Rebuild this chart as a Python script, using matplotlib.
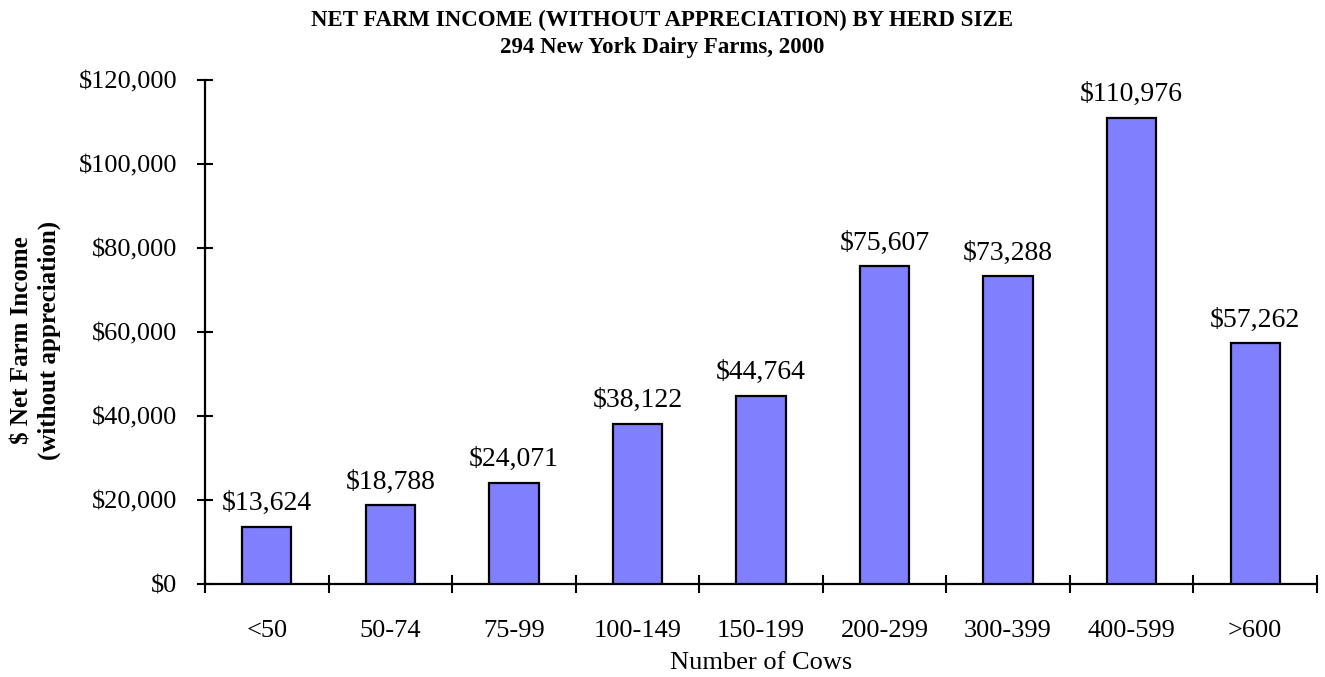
import matplotlib
matplotlib.use("Agg")
import matplotlib.pyplot as plt
from matplotlib.ticker import FuncFormatter

# herd size groups and net farm income (without appreciation)
herd_sizes = ["<50", "50-74", "75-99", "100-149", "150-199",
              "200-299", "300-399", "400-599", ">600"]
net_income = [13624, 18788, 24071, 38122, 44764, 75607, 73288, 110976, 57262]
y_ticks = [0, 20000, 40000, 60000, 80000, 100000, 120000]

plt.rcParams["font.family"] = ["Liberation Serif", "DejaVu Serif"]

fig = plt.figure(figsize=(13.25, 6.77), dpi=100)
ax = fig.add_axes([205 / 1325, 1 - 584 / 677, 1112 / 1325, 504 / 677])

x = list(range(len(herd_sizes)))
bars = ax.bar(x, net_income, width=0.4, color="#8080FF",
              edgecolor="black", linewidth=1.6, zorder=3)

for xi, v in zip(x, net_income):
    ax.annotate(f"${v:,}", (xi, v), xytext=(0, 12), textcoords="offset points",
                ha="center", va="baseline", fontsize=20)

ax.set_xlim(-0.5, len(herd_sizes) - 0.5)
ax.set_ylim(0, 120000)
ax.set_yticks(y_ticks)
ax.yaxis.set_major_formatter(FuncFormatter(lambda v, p: f"${int(v):,}"))

# tick marks on category boundaries, labels centred under bars
ax.set_xticks([i - 0.5 for i in range(len(herd_sizes) + 1)])
ax.set_xticklabels([])
ax.set_xticks(x, minor=True)
ax.set_xticklabels(herd_sizes, minor=True)
ax.tick_params(axis="x", which="minor", length=0, labelsize=19, pad=26)
ax.tick_params(axis="x", which="major", direction="inout", length=13, width=1.5)
ax.tick_params(axis="y", direction="inout", length=12, width=1.5,
               labelsize=19, pad=14)

for s in ["top", "right"]:
    ax.spines[s].set_visible(False)
for s in ["left", "bottom"]:
    ax.spines[s].set_linewidth(1.6)

ax.set_xlabel("Number of Cows", fontsize=19, labelpad=7)
fig.text(36 / 1325, 1 - 340 / 677, "$ Net Farm Income\n(without appreciation)",
         rotation=90, ha="center", va="center", fontsize=18,
         fontweight="bold", linespacing=1.2)

fig.text(0.5, 1 - 20 / 677, "NET FARM INCOME (WITHOUT APPRECIATION) BY HERD SIZE",
         ha="center", va="center", fontsize=16.5, fontweight="bold")
fig.text(0.5, 1 - 47 / 677, "294 New York Dairy Farms, 2000",
         ha="center", va="center", fontsize=16.5, fontweight="bold")

fig.savefig("out.png", dpi=100)
